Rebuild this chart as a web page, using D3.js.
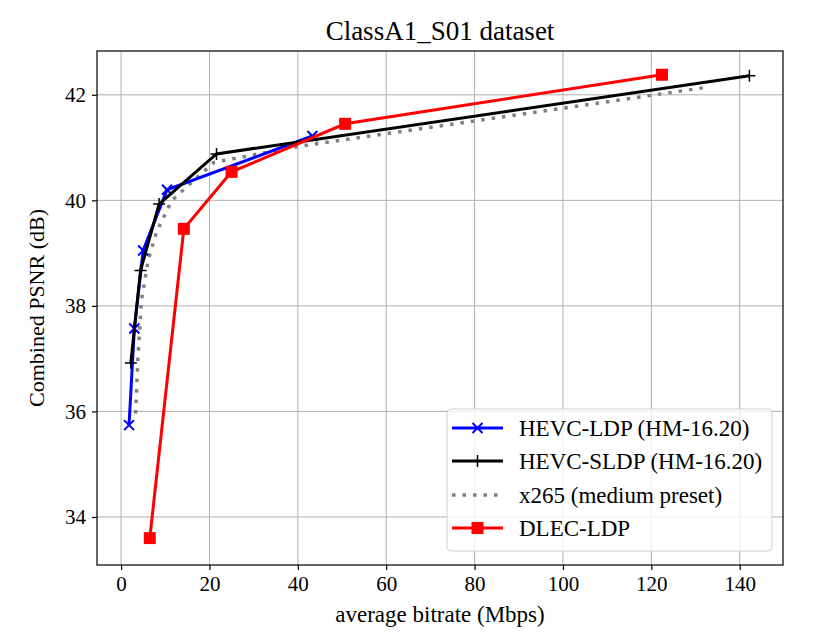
<!DOCTYPE html>
<html>
<head>
<meta charset="utf-8">
<script src="https://cdn.jsdelivr.net/npm/d3@7"></script>
<style>
  body { margin: 0; background: #fff; }
  text { font-family: "Liberation Serif", "Times New Roman", serif; fill: #000; }
</style>
</head>
<body>
<div id="chart"></div>
<script>
// bitrate (Mbps) / PSNR (dB)
const hevcLdpRate = [1.8, 3.0, 5.0, 10.4, 43.3];
const hevcLdpPsnr = [35.74, 37.57, 39.05, 40.2, 41.22];

const hevcSldpRate = [2.2, 4.4, 8.6, 21.6, 142.2];
const hevcSldpPsnr = [36.92, 38.67, 39.93, 40.88, 42.36];

const x265Rate = [3.3, 3.8, 4.6, 6.1, 8.0, 11.5, 21.0, 40.0, 133.2];
const x265Psnr = [35.96, 37.0, 38.1, 38.85, 39.4, 40.0, 40.72, 41.02, 42.15];

const dlecRate = [6.5, 14.2, 25.0, 50.7, 122.4];
const dlecPsnr = [33.6, 39.46, 40.54, 41.45, 42.38];

const xTicks = [0, 20, 40, 60, 80, 100, 120, 140];
const yTicks = [34, 36, 38, 40, 42];

const seriesNames = ["HEVC-LDP (HM-16.20)", "HEVC-SLDP (HM-16.20)", "x265 (medium preset)", "DLEC-LDP"];

const width = 837, height = 635;
const margin = { top: 51, right: 54, bottom: 70, left: 97 };
const iw = width - margin.left - margin.right;
const ih = height - margin.top - margin.bottom;

const svg = d3.select("#chart").append("svg")
  .attr("width", width).attr("height", height);

const g = svg.append("g").attr("transform", `translate(${margin.left},${margin.top})`);

const x = d3.scaleLinear().domain([-5.45, 149.8]).range([0, iw]);
const y = d3.scaleLinear().domain([33.09, 42.83]).range([ih, 0]);

// grid
g.append("g").selectAll("line").data(xTicks).enter().append("line")
  .attr("x1", d => x(d)).attr("x2", d => x(d)).attr("y1", 0).attr("y2", ih)
  .attr("stroke", "#b0b0b0").attr("stroke-width", 1);
g.append("g").selectAll("line").data(yTicks).enter().append("line")
  .attr("y1", d => y(d)).attr("y2", d => y(d)).attr("x1", 0).attr("x2", iw)
  .attr("stroke", "#b0b0b0").attr("stroke-width", 1);

// axes
const xAxis = g.append("g").attr("transform", `translate(0,${ih})`)
  .call(d3.axisBottom(x).tickValues(xTicks).tickSize(5).tickPadding(6).tickFormat(d3.format("d")));
const yAxis = g.append("g")
  .call(d3.axisLeft(y).tickValues(yTicks).tickSize(5).tickPadding(6).tickFormat(d3.format("d")));
[xAxis, yAxis].forEach(a => {
  a.select(".domain").remove();
  a.selectAll("line").attr("stroke", "#000").attr("stroke-width", 1.2);
  a.selectAll("text").style("font-size", "21px")
    .style("font-family", '"Liberation Serif", "Times New Roman", serif');
});

const zip = (xs, ys) => xs.map((v, i) => [v, ys[i]]);
const line = d3.line().x(d => x(d[0])).y(d => y(d[1]));

const plot = g.append("g");

// x265
plot.append("path").datum(zip(x265Rate, x265Psnr))
  .attr("d", line).attr("fill", "none").attr("stroke", "#808080")
  .attr("stroke-width", 3.5).attr("stroke-dasharray", "3.5,7");

// HEVC-LDP
plot.append("path").datum(zip(hevcLdpRate, hevcLdpPsnr))
  .attr("d", line).attr("fill", "none").attr("stroke", "#0000ff").attr("stroke-width", 3);
plot.append("g").selectAll("path").data(zip(hevcLdpRate, hevcLdpPsnr)).enter().append("path")
  .attr("transform", d => `translate(${x(d[0])},${y(d[1])})`)
  .attr("d", "M-5,-5L5,5M-5,5L5,-5").attr("stroke", "#0000ff").attr("stroke-width", 2);

// HEVC-SLDP
plot.append("path").datum(zip(hevcSldpRate, hevcSldpPsnr))
  .attr("d", line).attr("fill", "none").attr("stroke", "#000").attr("stroke-width", 3);
plot.append("g").selectAll("path").data(zip(hevcSldpRate, hevcSldpPsnr)).enter().append("path")
  .attr("transform", d => `translate(${x(d[0])},${y(d[1])})`)
  .attr("d", "M-6,0L6,0M0,-6L0,6").attr("stroke", "#000").attr("stroke-width", 1.5);

// DLEC-LDP
plot.append("path").datum(zip(dlecRate, dlecPsnr))
  .attr("d", line).attr("fill", "none").attr("stroke", "#ff0000").attr("stroke-width", 3);
plot.append("g").selectAll("rect").data(zip(dlecRate, dlecPsnr)).enter().append("rect")
  .attr("x", d => x(d[0]) - 6).attr("y", d => y(d[1]) - 6)
  .attr("width", 12).attr("height", 12).attr("fill", "#ff0000");

// frame
g.append("rect").attr("width", iw).attr("height", ih)
  .attr("fill", "none").attr("stroke", "#000").attr("stroke-width", 1.2);

// legend
const lg = svg.append("g").attr("transform", "translate(447,409)");
lg.append("rect").attr("width", 325).attr("height", 142).attr("rx", 4)
  .attr("fill", "#fff").attr("fill-opacity", 0.8).attr("stroke", "#d0d0d0");
const rowY = [19, 52, 86, 119];
const styles = [
  { stroke: "#0000ff", dash: null, w: 3, marker: "x" },
  { stroke: "#000", dash: null, w: 3, marker: "+" },
  { stroke: "#808080", dash: "3.5,7", w: 3.5, marker: null },
  { stroke: "#ff0000", dash: null, w: 3, marker: "s" }
];
seriesNames.forEach((name, i) => {
  const s = styles[i];
  const row = lg.append("g").attr("transform", `translate(0,${rowY[i]})`);
  row.append("line").attr("x1", 5).attr("x2", 56)
    .attr("stroke", s.stroke).attr("stroke-width", s.w)
    .attr("stroke-dasharray", s.dash);
  if (s.marker === "x") row.append("path").attr("transform", "translate(30.5,0)")
    .attr("d", "M-5,-5L5,5M-5,5L5,-5").attr("stroke", s.stroke).attr("stroke-width", 2);
  if (s.marker === "+") row.append("path").attr("transform", "translate(30.5,0)")
    .attr("d", "M-6,0L6,0M0,-6L0,6").attr("stroke", s.stroke).attr("stroke-width", 1.5);
  if (s.marker === "s") row.append("rect").attr("x", 24.5).attr("y", -6)
    .attr("width", 12).attr("height", 12).attr("fill", s.stroke);
  row.append("text").attr("x", 72).attr("y", 8).style("font-size", "23px").text(name);
});

// title and labels
svg.append("text").attr("x", margin.left + iw / 2).attr("y", 40)
  .attr("text-anchor", "middle").style("font-size", "27px").text("ClassA1_S01 dataset");
svg.append("text").attr("x", margin.left + iw / 2).attr("y", 622)
  .attr("text-anchor", "middle").style("font-size", "23px").text("average bitrate (Mbps)");
svg.append("text").attr("transform", `translate(44,${margin.top + ih / 2}) rotate(-90)`)
  .attr("text-anchor", "middle").style("font-size", "22px").text("Combined PSNR (dB)");
</script>
</body>
</html>
